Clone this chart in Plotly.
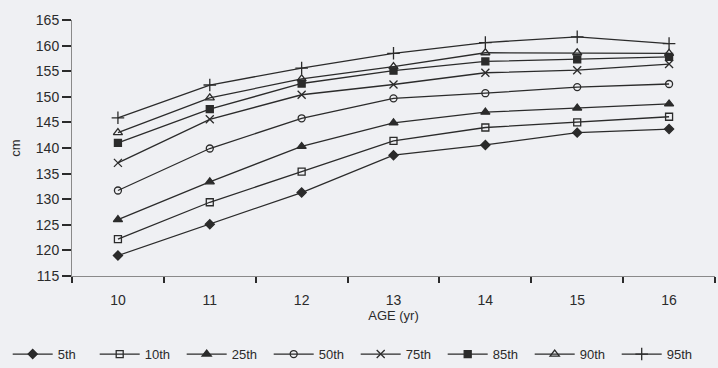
import plotly.graph_objects as go

ages = [10, 11, 12, 13, 14, 15, 16]
p5 = [119.0, 125.1, 131.3, 138.6, 140.6, 143.0, 143.7]
p10 = [122.2, 129.4, 135.4, 141.4, 144.0, 145.0, 146.1]
p25 = [126.0, 133.4, 140.3, 144.9, 147.0, 147.8, 148.6]
p50 = [131.7, 139.9, 145.8, 149.7, 150.7, 151.9, 152.5]
p75 = [137.1, 145.6, 150.4, 152.4, 154.7, 155.2, 156.4]
p85 = [141.0, 147.6, 152.6, 155.1, 156.9, 157.3, 157.8]
p90 = [143.0, 149.8, 153.5, 155.9, 158.6, 158.6, 158.5]
p95 = [145.9, 152.3, 155.6, 158.5, 160.6, 161.7, 160.4]

names = ["5th", "10th", "25th", "50th", "75th", "85th", "90th", "95th"]
series = [p5, p10, p25, p50, p75, p85, p90, p95]
symbols = ["diamond", "square-open", "triangle-up", "circle-open",
           "x-thin-open", "square", "triangle-up-open", "cross-thin-open"]
sizes = [7, 7, 8, 7, 8, 7, 8, 9]

y_ticks = [115, 120, 125, 130, 135, 140, 145, 150, 155, 160, 165]
minor_x = [9.5, 10.5, 11.5, 12.5, 13.5, 14.5, 15.5, 16.5]

ink = "#2b2b2b"
fig = go.Figure()
for n, s, sym, sz in zip(names, series, symbols, sizes):
    fig.add_trace(go.Scatter(
        x=ages, y=s, name=n, mode="lines+markers",
        line=dict(color=ink, width=1.3),
        marker=dict(symbol=sym, size=sz, color=ink,
                    line=dict(color=ink, width=1.3)),
    ))

fig.update_layout(
    width=718, height=368,
    margin=dict(l=72, r=3, t=20, b=92, autoexpand=False),
    paper_bgcolor="#eff0f3", plot_bgcolor="#eff0f3",
    font=dict(family="Liberation Sans, Arial, sans-serif", size=13, color=ink),
    showlegend=True,
    legend=dict(orientation="h", x=-0.1, xanchor="left",
                y=-0.305, yanchor="middle", itemwidth=40,
                font=dict(size=13), entrywidth=32, entrywidthmode="pixels",
                bgcolor="rgba(0,0,0,0)", tracegroupgap=0),
)
fig.update_xaxes(
    range=[9.5, 16.5], tickvals=ages, ticktext=[str(a) for a in ages],
    ticks="outside", ticklen=11, tickcolor="rgba(0,0,0,0)",
    tickfont=dict(size=14), automargin=False,
    minor=dict(tickvals=minor_x, ticks="outside", ticklen=6, tickcolor=ink, tickwidth=1.5),
    showline=True, linecolor="#8a8a8a", linewidth=1, showgrid=False, zeroline=False,
    title=dict(text="AGE (yr)", font=dict(size=13), standoff=0),
)
fig.update_yaxes(
    range=[115, 165], tickvals=y_ticks, ticks="outside", ticklen=9, tickwidth=1.5,
    tickcolor=ink, tickfont=dict(size=14), automargin=False,
    showline=True, linecolor="#8a8a8a", linewidth=1, showgrid=False, zeroline=False,
    title=dict(text="cm", font=dict(size=13), standoff=12),
)

fig.write_html("out.html")
